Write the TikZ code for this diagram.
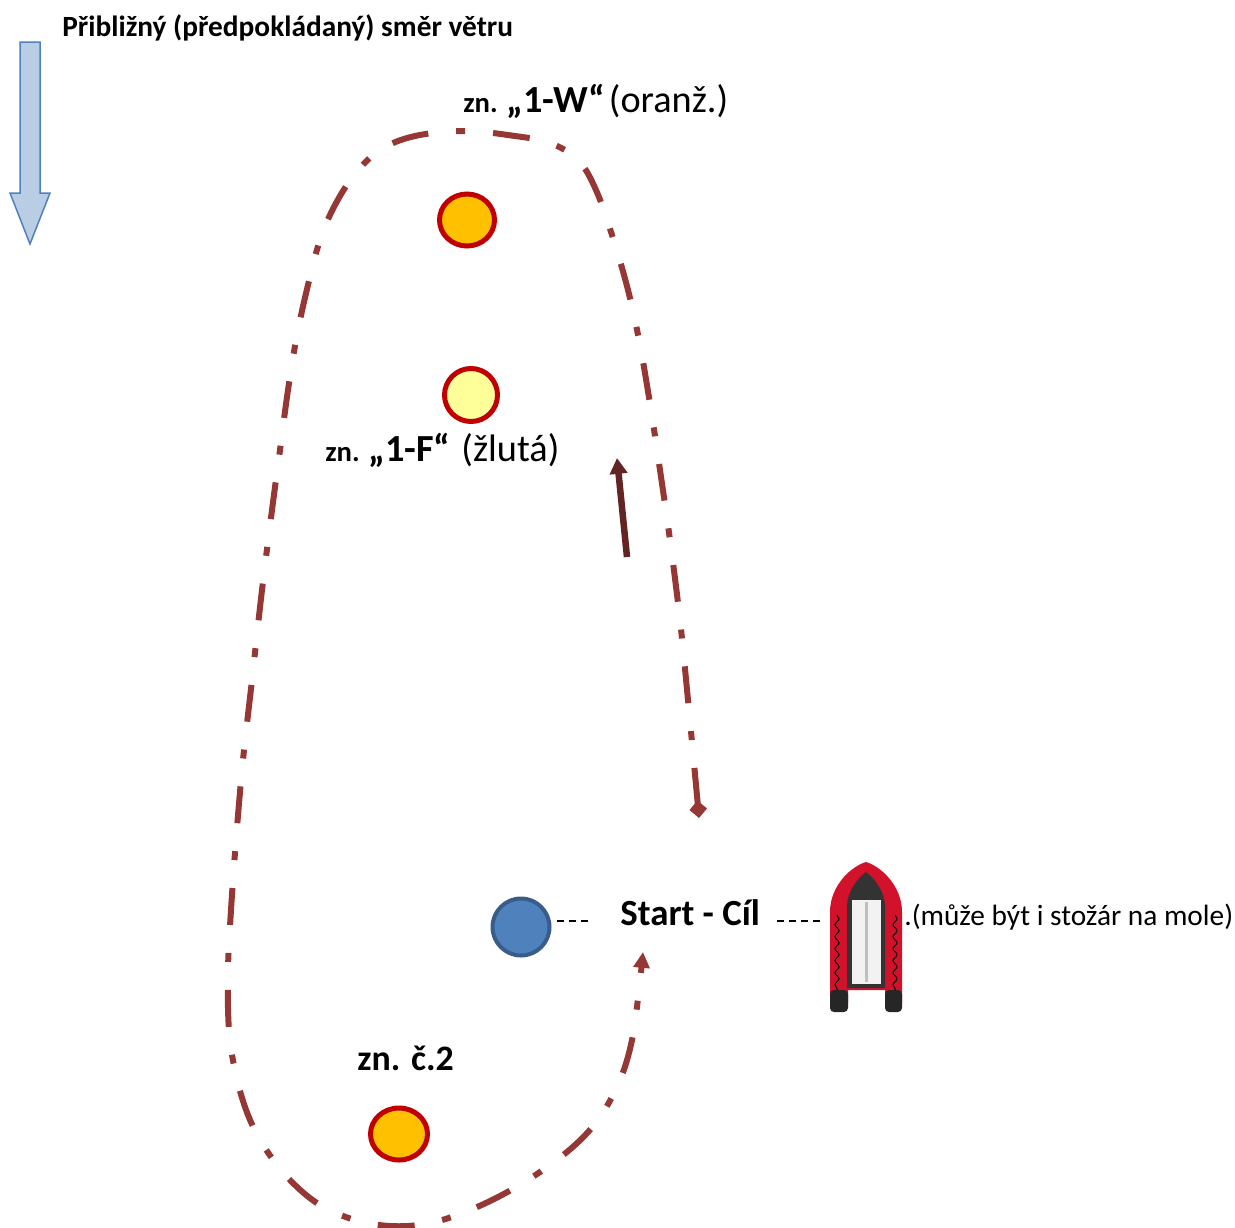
\documentclass[tikz,border=0pt]{standalone}
\usepackage{fontspec}
\setmainfont{Carlito}
\usepackage{tikz}
\usetikzlibrary{arrows.meta, shapes.geometric, decorations.pathmorphing}
\newlength\pxu
\setlength\pxu{0.02cm}
\definecolor{course}{HTML}{953735}
\definecolor{courseArrow}{HTML}{632523}
\definecolor{markRed}{HTML}{C00000}
\definecolor{markOrange}{HTML}{FFC000}
\definecolor{markYellow}{HTML}{FFFF99}
\definecolor{markBlue}{HTML}{4F81BD}
\definecolor{markBlueEdge}{HTML}{385D8A}
\definecolor{windFill}{HTML}{B9CDE5}
\definecolor{boatRed}{HTML}{D2122B}
\newcommand\znsmall{\fontsize{16.3pt}{19pt}\selectfont\bfseries}
\newcommand\znbig{\fontsize{21.8pt}{26pt}\selectfont}

\tikzset{
  buoy/.style={ellipse, draw=markRed, line width=5\pxu, inner sep=0pt},
  label text/.style={anchor=base west, inner sep=0pt},
  linkdash/.style={line width=2\pxu, dash pattern=on 7\pxu off 5\pxu},
  courseline/.style={color=course, line width=6\pxu,
    dash pattern=on 37\pxu off 28\pxu on 9\pxu off 28\pxu}
}

\begin{document}
\begin{tikzpicture}[x=0.02cm, y=-0.02cm]
\useasboundingbox (0,0) rectangle (1235,1228);
% wind
\draw [draw=markBlue, fill=windFill, line width=1.5\pxu] (20,42) -- (40,42) -- (40,193) -- (50,193) -- (30,244) -- (10,193) -- (20,193) -- cycle;
\node [label text, font=\fontsize{16.7pt}{20pt}\selectfont\bfseries] (wind) at (62,36) {Přibližný (předpokládaný) směr větru};

% marks
\node [buoy, fill=markOrange, minimum width=55\pxu, minimum height=52\pxu] (markW) at (467,220) {};
\node [buoy, fill=markYellow, minimum width=53\pxu, minimum height=53\pxu] (markF) at (471,395) {};
\node [buoy, fill=markOrange, minimum width=57\pxu, minimum height=52\pxu] (markTwo) at (399,1134) {};
\node [ellipse, draw=markBlueEdge, fill=markBlue, line width=4\pxu, minimum width=57\pxu, minimum height=57\pxu, inner sep=0pt] (pin) at (521,927) {};

\node [label text] (labW) at (463,112) {{\znsmall zn. }{\znbig\bfseries „1-W“} {\znbig (oranž.)}};
\node [label text] (labF) at (325,461) {{\znsmall zn. }{\znbig\bfseries „1-F“}\hspace{0.4em} {\znbig (žlutá)}};
\node [label text, font=\fontsize{20.4pt}{24pt}\selectfont\bfseries] (labTwo) at (357,1070) {zn. č.2};

% course
\coordinate (go) at (699,818);
\coordinate (back) at (643,952);
\draw [courseline, {Diamond[width=10pt,length=10pt]}-{Triangle[width=9pt,length=9pt]}]
  plot [smooth, tension=0.6] coordinates {(go) (696,785) (688,700) (680,620) (670,540) (660,470)
  (651,410) (640,345) (628,290) (612,235) (596,190) (578,160) (550,143) (515,136) (465,131)
  (415,136) (380,150) (355,174) (335,205) (320,240) (308,285) (297,335) (288,390) (280,450)
  (272,510) (262,590) (252,680) (243,760) (236,840) (231,910) (228,970) (229,1030) (236,1075)
  (248,1115) (265,1148) (290,1180) (320,1205) (355,1220) (390,1226) (425,1224) (460,1214)
  (500,1196) (540,1172) (575,1145) (600,1117) (620,1080) (632,1040) (639,990) (back)};
\coordinate (upFrom) at (627,557);
\coordinate (upTo) at (617,458);
\draw [courseArrow, line width=6.5\pxu, -{Triangle[width=9.7pt,length=9pt]}] (upFrom) -- (upTo);

% start line
\node [label text, font=\fontsize{21pt}{25pt}\selectfont\bfseries] (start) at (620,925) {Start - Cíl};
\node [minimum width=75\pxu, minimum height=150\pxu, inner sep=0pt] (boat) at (866,937) {};
\draw [linkdash, shorten <=5\pxu, shorten >=32\pxu] (pin.east |- start.mid west) -- (start.mid west);
\draw [linkdash, shorten <=17\pxu, shorten >=8\pxu] (start.mid east) -- (start.mid east -| boat.west);
\node [label text, font=\fontsize{16.7pt}{20pt}\selectfont] (note) at (904,925) {.(může být i stožár na mole)};

% boat
\fill [boatRed] (830,1003) -- (830,912) .. controls (830,885) and (852,866) .. (866,862)
  .. controls (880,866) and (902,885) .. (902,912) -- (902,1003) -- (885,1003) -- (885,990)
  -- (848,990) -- (848,1003) -- cycle;
\fill [black!85, rounded corners=4\pxu] (830,990) -- (830,1012) -- (848,1012) -- (848,990) -- cycle;
\fill [black!85, rounded corners=4\pxu] (885,990) -- (885,1012) -- (902,1012) -- (902,990) -- cycle;
\fill [black!80] (847,988) -- (847,905) .. controls (848,890) and (858,878) .. (866,872)
  .. controls (874,878) and (884,890) .. (885,905) -- (885,988) -- cycle;
\fill [black!5] (852,900) rectangle (881,984);
\draw [black!25, line width=3\pxu] (866,902) -- (866,982);
\draw [black, line width=1\pxu, decorate, decoration={snake, amplitude=2\pxu, segment length=12\pxu}] (837,915) -- (837,990);
\draw [black, line width=1\pxu, decorate, decoration={snake, amplitude=2\pxu, segment length=12\pxu}] (895,915) -- (895,990);
\end{tikzpicture}
\end{document}
